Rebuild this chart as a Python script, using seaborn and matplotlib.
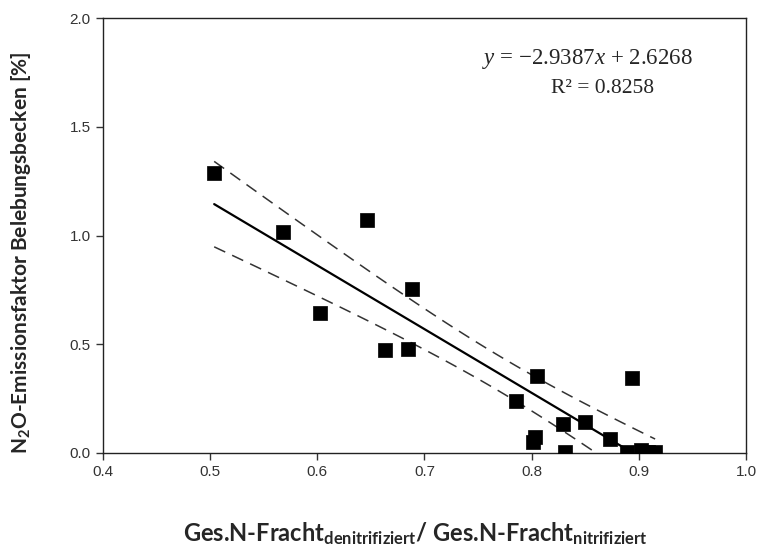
import numpy as np
import pandas as pd
import matplotlib
matplotlib.use("Agg")
import matplotlib.pyplot as plt
import seaborn as sns

# Data
x_ratio = [0.504, 0.568, 0.603, 0.646, 0.663, 0.685, 0.688, 0.785, 0.801, 0.803,
           0.805, 0.829, 0.831, 0.850, 0.873, 0.889, 0.893, 0.902, 0.908, 0.915]
n2o_factor = [1.289, 1.017, 0.642, 1.073, 0.474, 0.479, 0.755, 0.241, 0.048, 0.072,
              0.356, 0.133, 0.006, 0.140, 0.065, 0.005, 0.346, 0.012, 0.003, 0.006]
eq_text = "$y$ = \u22122.9387$x$ + 2.6268"
r2_text = "R² = 0.8258"
x_ticks = [0.4, 0.5, 0.6, 0.7, 0.8, 0.9, 1.0]
y_ticks = [0.0, 0.5, 1.0, 1.5, 2.0]

df = pd.DataFrame({"ratio": x_ratio, "factor": n2o_factor})

# linear fit + 95% confidence band of the mean
x = np.array(x_ratio)
y = np.array(n2o_factor)
n = len(x)
slope, intercept = np.polyfit(x, y, 1)
resid = y - (slope * x + intercept)
s = np.sqrt(np.sum(resid ** 2) / (n - 2))
sxx = np.sum((x - x.mean()) ** 2)
t_val = 2.101  # t(0.975, 18)
xs = np.linspace(x.min(), x.max(), 100)
fit = slope * xs + intercept
half = t_val * s * np.sqrt(1 / n + (xs - x.mean()) ** 2 / sxx)
lines = pd.DataFrame({"x": xs, "fit": fit, "upper": fit + half, "lower": fit - half})

sns.set_style("ticks")
plt.rcParams["font.family"] = ["Liberation Sans", "DejaVu Sans"]
plt.rcParams["mathtext.fontset"] = "custom"
plt.rcParams["mathtext.rm"] = "Liberation Serif"
plt.rcParams["mathtext.it"] = "Liberation Serif:italic"
plt.rcParams["mathtext.bf"] = "Lato:bold"

fig, ax = plt.subplots(figsize=(7.6, 5.51), dpi=100)
fig.subplots_adjust(left=0.135, right=0.982, top=0.967, bottom=0.178)

sns.lineplot(data=lines, x="x", y="fit", ax=ax, color="black", lw=1.6)
sns.lineplot(data=lines, x="x", y="upper", ax=ax, color="#333333", lw=1.1)
sns.lineplot(data=lines, x="x", y="lower", ax=ax, color="#333333", lw=1.1)
for ln in ax.lines[1:]:
    ln.set_linestyle((0, (8, 5)))

sns.scatterplot(data=df, x="ratio", y="factor", ax=ax, marker="s", s=95,
                color="black", edgecolor="black", linewidth=0.5, zorder=5)

ax.set_xlim(0.4, 1.0)
ax.set_ylim(0.0, 2.0)
ax.set_xticks(x_ticks)
ax.set_yticks(y_ticks)
ax.set_xticklabels([f"{v:.1f}" for v in x_ticks])
ax.set_yticklabels([f"{v:.1f}" for v in y_ticks])
ax.tick_params(direction="out", length=5, width=1, labelsize=11, colors="#333333",
               labelcolor="#333333")
for sp in ax.spines.values():
    sp.set_visible(True)
    sp.set_linewidth(1.0)
    sp.set_color("#222222")

ax.set_xlabel(r"Ges.N-Fracht$_{\mathbf{denitrifiziert}}$/ Ges.N-Fracht$_{\mathbf{nitrifiziert}}$",
              family="Lato", fontweight="bold", fontsize=17)
ax.xaxis.set_label_coords(0.486, -0.155)
ax.set_ylabel(r"N$_{\mathbf{2}}$O-Emissionsfaktor Belebungsbecken [%]",
              family="Lato", fontweight="bold", fontsize=15)
ax.yaxis.set_label_coords(-0.108, 0.46)

ax.text(0.753, 0.906, eq_text, transform=ax.transAxes, ha="center", va="center",
        fontsize=16.5, family="Liberation Serif")
ax.text(0.776, 0.839, r2_text, transform=ax.transAxes, ha="center", va="center",
        fontsize=15.5, family="Liberation Serif")

fig.savefig("out.png", dpi=100)
